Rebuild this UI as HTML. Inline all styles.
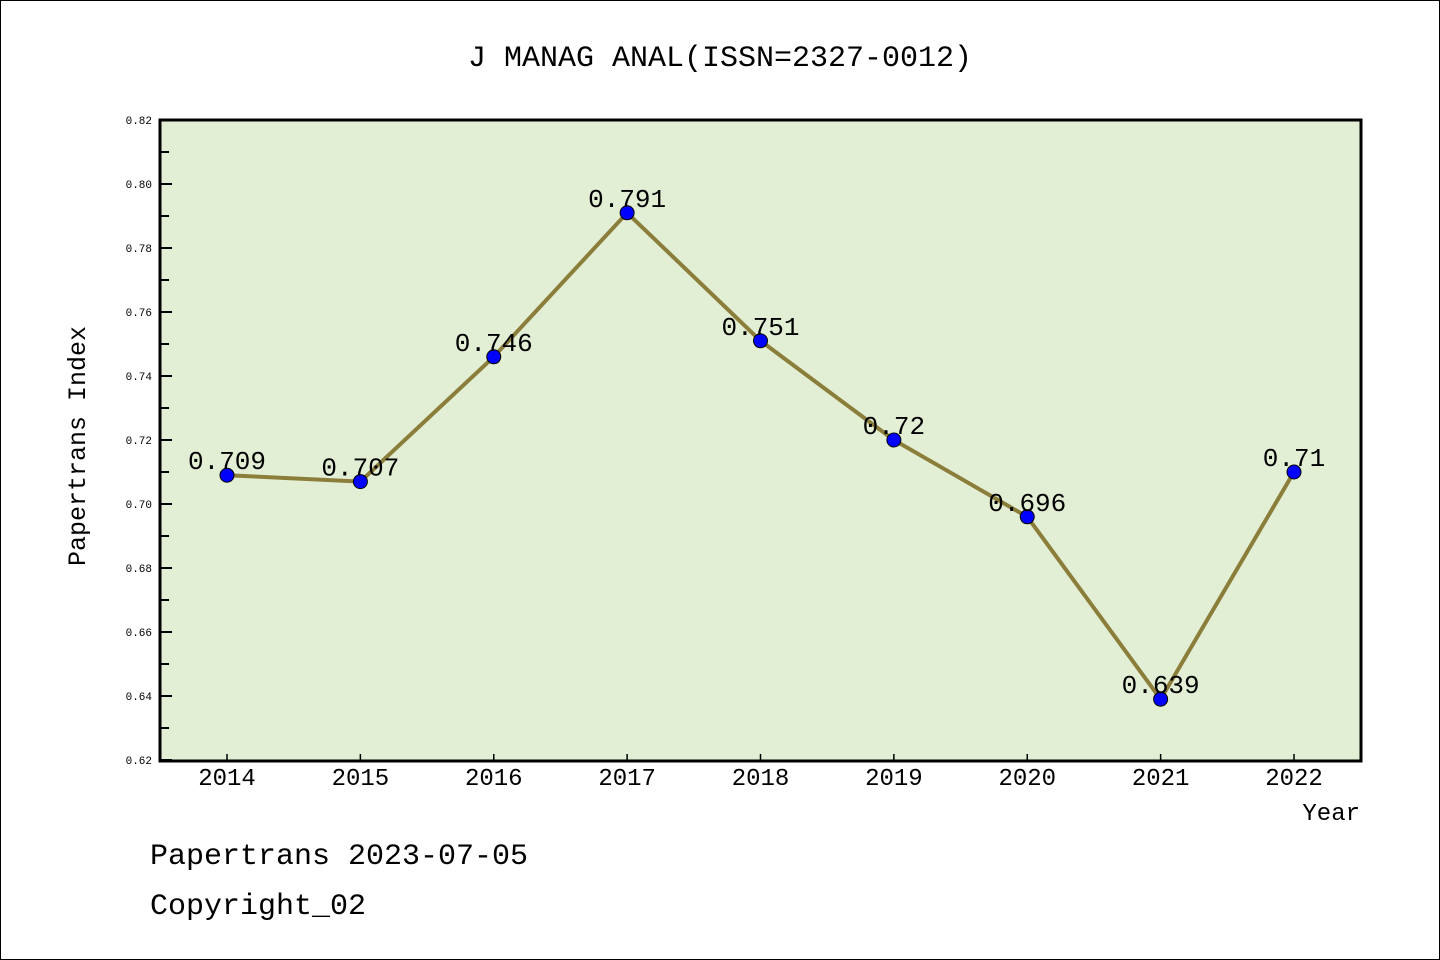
<!DOCTYPE html>
<html><head><meta charset="utf-8"><style>
html,body{margin:0;padding:0;background:#fff}
svg{display:block}
text{font-family:"Liberation Mono","WenQuanYi Zen Hei",monospace}
</style></head><body>
<svg id="chart" width="1440" height="960" xmlns="http://www.w3.org/2000/svg">
<rect x="0.5" y="0.5" width="1439" height="959" fill="#fff" stroke="#000" stroke-width="1"/>
<text x="720" y="66" font-size="30" text-anchor="middle">J MANAG ANAL(ISSN=2327-0012)</text>
<rect x="160" y="120" width="1201" height="641" fill="#e2efd5"/>
<g id="yaxis"></g>
<g id="xaxis"></g>
<g id="series"></g>
<rect x="160" y="120" width="1201" height="641" fill="none" stroke="#000" stroke-width="3"/>
<text transform="translate(85,446) rotate(-90)" font-size="25" text-anchor="middle">Papertrans Index</text>
<text x="1360" y="820" font-size="24" text-anchor="end">Year</text>
<text x="150" y="864" font-size="30">Papertrans 2023-07-05</text>
<text x="150" y="914" font-size="30">Copyright_02</text>
</svg>
<script>
const years=["2014","2015","2016","2017","2018","2019","2020","2021","2022"];
const values=[0.709,0.707,0.746,0.791,0.751,0.72,0.696,0.639,0.71];
const valueLabels=["0.709","0.707","0.746","0.791","0.751","0.72","0.696","0.639","0.71"];
const yTicks=["0.62","0.64","0.66","0.68","0.70","0.72","0.74","0.76","0.78","0.80","0.82"];
const NS="http://www.w3.org/2000/svg";
const yMin=0.62,yMax=0.82,plotTop=120,plotBot=760,plotLeft=160;
const yScale=v=>plotBot-(v-yMin)/(yMax-yMin)*(plotBot-plotTop);
const xScale=i=>227+i*(1294-227)/(years.length-1);
function mk(t,a,p){const e=document.createElementNS(NS,t);for(const k in a)e.setAttribute(k,a[k]);p.appendChild(e);return e;}
const ya=document.getElementById('yaxis'),xa=document.getElementById('xaxis'),s=document.getElementById('series');
yTicks.forEach((t,i)=>{
 const v=parseFloat(t);
 const l=mk('line',{x1:plotLeft,x2:plotLeft+12,y1:yScale(v),y2:yScale(v),stroke:'#000','stroke-width':2},ya);
 
 
 const tx=mk('text',{x:152,y:yScale(v)+4,'font-size':11,'text-anchor':'end'},ya);
 tx.textContent=t;
 
 
 if(i<yTicks.length-1){
  const m=mk('line',{x1:plotLeft,x2:plotLeft+9,y1:yScale(v+0.01),y2:yScale(v+0.01),stroke:'#000','stroke-width':2},ya);
  
  
 }
});
years.forEach((yr,i)=>{
 const l=mk('line',{x1:xScale(i),x2:xScale(i),y1:plotBot,y2:plotBot-6,stroke:'#000','stroke-width':1.5},xa);
 
 
 const t=mk('text',{x:xScale(i),y:785,'font-size':24,'text-anchor':'middle'},xa);
 t.textContent=yr;
 
 
});
const pl=mk('polyline',{points:values.map((v,i)=>xScale(i)+','+yScale(v)).join(' '),fill:'none',stroke:'#8b7d3a','stroke-width':4},s);


values.forEach((v,i)=>{
 const c=mk('circle',{cx:xScale(i),cy:yScale(v),r:7,fill:'#0000ff',stroke:'#000','stroke-width':1},s);
 
 
 const t=mk('text',{x:xScale(i),y:yScale(v)-6,'font-size':26,'text-anchor':'middle'},s);
 t.textContent=valueLabels[i];
 
 
});
</script>
</body></html>
